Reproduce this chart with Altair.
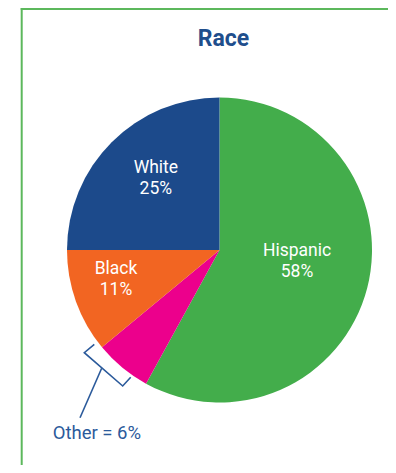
import altair as alt
import pandas as pd

# ---- data ----
categories = ["Hispanic", "Other", "Black", "White"]
values = [58, 6, 11, 25]
slice_order = [1, 2, 3, 4]
colors = ["#43ad4b", "#ec008c", "#f26522", "#1c4a8b"]
labels = ["Hispanic\n58%", "", "Black\n11%", "White\n25%"]
label_radius = [80, 0, 110, 90]

bracket_x = [86.3, 76.3, 114.7, 122.7]
bracket_y = [336.3, 344.7, 378.0, 369.3]
leader_x = [93.7, 72.0]
leader_y = [360.3, 409.7]

title_text = "Race"
other_text = "Other = 6%"

W, H = 380, 457
CX, CY, R = 211.5, 242.0, 152.5

pie_df = pd.DataFrame({
    "category": categories,
    "value": values,
    "ord": slice_order,
    "label": labels,
    "r": label_radius,
})

theta_scale = alt.Scale(domain=[0, 100], range=[0, 6.283185307179586])

pie = alt.Chart(pie_df).mark_arc(radius=R, stroke=None).encode(
    theta=alt.Theta("value:Q", stack=True, scale=theta_scale),
    order=alt.Order("ord:Q"),
    color=alt.Color("category:N",
                    scale=alt.Scale(domain=categories, range=colors),
                    legend=None),
    x=alt.value(CX),
    y=alt.value(CY),
)

pie_labels = alt.Chart(pie_df).transform_window(
    cum="sum(value)", sort=[alt.SortField("ord")], frame=[None, 0]
).transform_calculate(
    mid="datum.cum - datum.value / 2"
).transform_filter("datum.label != ''").mark_text(
    font="Roboto", fontSize=17.5, color="white", lineBreak="\n",
    lineHeight=21, align="center", baseline="middle", dy=-18.5,
).encode(
    theta=alt.Theta("mid:Q", stack=None, scale=theta_scale),
    radius=alt.Radius("r:Q", scale=None),
    text="label:N",
    x=alt.value(CX),
    y=alt.value(CY),
)

bracket_df = pd.DataFrame({"x": bracket_x, "y": bracket_y, "i": range(len(bracket_x))})
bracket = alt.Chart(bracket_df).mark_line(color="#2b5a9b", strokeWidth=1.6).encode(
    x=alt.X("x:Q", scale=None, axis=None),
    y=alt.Y("y:Q", scale=None, axis=None),
    order="i:Q",
)

leader_df = pd.DataFrame({"x": leader_x, "y": leader_y, "i": range(len(leader_x))})
leader = alt.Chart(leader_df).mark_line(color="#2b5a9b", strokeWidth=1.6).encode(
    x=alt.X("x:Q", scale=None, axis=None),
    y=alt.Y("y:Q", scale=None, axis=None),
    order="i:Q",
)

other_label = alt.Chart(pd.DataFrame({"t": [other_text]})).mark_text(
    font="Roboto", fontSize=18.5, color="#2b5a9b", align="left", baseline="alphabetic",
).encode(text="t:N", x=alt.value(44.7), y=alt.value(431))

title = alt.Chart(pd.DataFrame({"t": [title_text]})).mark_text(
    font="Roboto", fontSize=23, fontWeight="bold", color="#1f4e8c",
    align="center", baseline="alphabetic",
).encode(text="t:N", x=alt.value(215.5), y=alt.value(38))

border_left = alt.Chart(pd.DataFrame({"a": [0]})).mark_rule(color="#5cb85c", strokeWidth=2).encode(
    x=alt.value(13.7), y=alt.value(0), y2=alt.value(H)
)
border_top = alt.Chart(pd.DataFrame({"a": [0]})).mark_rule(color="#5cb85c", strokeWidth=2).encode(
    x=alt.value(12.7), x2=alt.value(W), y=alt.value(1)
)

chart = alt.layer(
    border_left, border_top, pie, pie_labels, bracket, leader, other_label, title
).properties(
    width=W, height=H, padding=0,
    autosize=alt.AutoSizeParams(type="none"),
).configure_view(stroke=None)

chart.save("out.html", embed_options={"renderer": "svg", "actions": False})
